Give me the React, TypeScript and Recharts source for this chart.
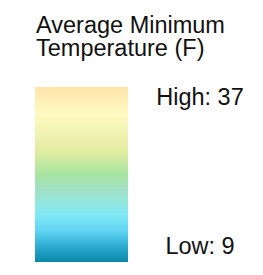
import { Bar, BarChart, LabelList, XAxis, YAxis } from "recharts";

const TITLE_LINES = ["Average Minimum", "Temperature (F)"];
const LOW = 9;
const HIGH = 37;
const legendData = [{ name: "Minimum temperature", range: [LOW, HIGH] }];

// colour ramp of the legend bar, top (high) to bottom (low)
const RAMP_OFFSETS = [0, 15, 37, 50, 59, 67, 73, 82, 90, 100];
const RAMP_COLORS = [
  "#ffe4a8",
  "#fffac2",
  "#e2eca2",
  "#a6e4a0",
  "#a2e0c8",
  "#90e8e2",
  "#80e8f4",
  "#62d4f2",
  "#32b0d6",
  "#0887a8",
];

const FONT = "'Liberation Sans', Arial, sans-serif";

function EndLabels(props: any) {
  const { x, y, width, height } = props;
  const cx = x + width + 72;
  return (
    <g fontFamily={FONT} fontSize={23.5} fill="#111">
      <text x={cx} y={y + 18} textAnchor="middle">
        {`High: ${HIGH}`}
      </text>
      <text x={cx} y={y + height - 8} textAnchor="middle">
        {`Low: ${LOW}`}
      </text>
    </g>
  );
}

export default function App() {
  return (
    <div style={{ position: "relative", width: 263, height: 275, margin: -8, background: "#fff" }}>
      <div
        style={{
          position: "absolute",
          left: 36,
          top: 14,
          fontFamily: FONT,
          fontSize: 23.5,
          lineHeight: "22.5px",
          color: "#111",
          whiteSpace: "nowrap",
        }}
      >
        {TITLE_LINES.map((line) => (
          <div key={line}>{line}</div>
        ))}
      </div>
      <BarChart
        width={263}
        height={275}
        data={legendData}
        margin={{ top: 87, right: 135, bottom: 13, left: 35 }}
        barCategoryGap={0}
      >
        <defs>
          <linearGradient id="tempRamp" x1="0" y1="0" x2="0" y2="1">
            {RAMP_OFFSETS.map((o, i) => (
              <stop key={o} offset={`${o}%`} stopColor={RAMP_COLORS[i]} />
            ))}
          </linearGradient>
        </defs>
        <XAxis dataKey="name" hide />
        <YAxis hide domain={[LOW, HIGH]} />
        <Bar dataKey="range" fill="url(#tempRamp)" isAnimationActive={false}>
          <LabelList dataKey="range" content={EndLabels} />
        </Bar>
      </BarChart>
    </div>
  );
}
